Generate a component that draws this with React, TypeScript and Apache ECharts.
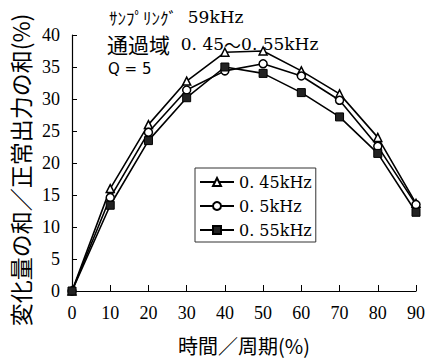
import React, { useEffect, useRef } from "react";
import * as echarts from "echarts";

const xValues = [0, 10, 20, 30, 40, 50, 60, 70, 80, 90];
const s045 = [0, 16.0, 26.0, 32.8, 37.3, 37.5, 34.4, 30.8, 24.0, 13.7];
const s050 = [0, 14.6, 24.8, 31.4, 34.4, 35.5, 33.6, 29.8, 22.6, 13.5];
const s055 = [0, 13.4, 23.5, 30.2, 35.0, 34.0, 31.0, 27.2, 21.5, 12.3];
const seriesNames = ["0. 45kHz", "0. 5kHz", "0. 55kHz"];
const serif = "'Liberation Serif', 'DejaVu Serif', serif";
const wideSerif = "'DejaVu Serif', serif";
const cjk = "'Noto Sans CJK JP', sans-serif";

export default function App() {
  const ref = useRef<HTMLDivElement>(null);
  useEffect(() => {
    const chart = echarts.init(ref.current!, null, { renderer: "svg" });
    const mk = (vals: number[]) => vals.map((v, i) => [xValues[i], v]);
    const base = {
      type: "line",
      lineStyle: { color: "#000", width: 1.6 },
      symbolSize: 8,
    };
    chart.setOption({
      animation: false,
      backgroundColor: "#fff",
      grid: { left: 72, right: 13, top: 35, bottom: 67 },
      xAxis: {
        type: "value",
        min: 0,
        max: 90,
        interval: 10,
        axisLine: { lineStyle: { color: "#000", width: 1.2 } },
        axisTick: { inside: true, length: 6, lineStyle: { color: "#000" } },
        axisLabel: { color: "#000", fontSize: 18, fontFamily: serif, margin: 13 },
        splitLine: { show: false },
      },
      yAxis: {
        type: "value",
        min: 0,
        max: 40,
        interval: 5,
        axisLine: { show: true, lineStyle: { color: "#000", width: 1.2 } },
        axisTick: { show: true, inside: true, length: 5, lineStyle: { color: "#000" } },
        axisLabel: { color: "#000", fontSize: 18, fontFamily: serif, margin: 12 },
        splitLine: { show: false },
      },
      legend: {
        orient: "vertical",
        left: 195,
        top: 168,
        itemWidth: 34,
        itemHeight: 10,
        itemGap: 8,
        padding: [6, 4, 4, 4],
        borderColor: "#333",
        borderWidth: 1,
        borderRadius: 0,
        backgroundColor: "#fff",
        textStyle: { color: "#000", fontSize: 16, fontFamily: wideSerif },
        data: seriesNames,
      },
      series: [
        {
          ...base,
          name: seriesNames[0],
          data: mk(s045),
          symbol: "triangle",
          itemStyle: { color: "#fff", borderColor: "#000", borderWidth: 1.5 },
        },
        {
          ...base,
          name: seriesNames[1],
          data: mk(s050),
          symbol: "circle",
          itemStyle: { color: "#fff", borderColor: "#000", borderWidth: 1.5 },
        },
        {
          ...base,
          name: seriesNames[2],
          data: mk(s055),
          symbol: "rect",
          itemStyle: { color: "#222", borderColor: "#000", borderWidth: 1 },
        },
      ],
      graphic: [
        {
          type: "text",
          x: 109,
          y: 17,
          style: {
            text: "{a|ｻﾝﾌﾟﾘﾝｸﾞ}{b|  59kHz}",
            verticalAlign: "middle",
            fill: "#000",
            rich: {
              a: { font: `17px ${cjk}`, fill: "#000", lineHeight: 16 },
              b: { font: `17px ${wideSerif}`, fill: "#000", lineHeight: 16 },
            },
          },
        },
        {
          type: "text",
          x: 107,
          y: 44,
          style: {
            text: "{a|通過域}{b|  0. 45}{c|～}{b|0. 55kHz}",
            verticalAlign: "middle",
            fill: "#000",
            rich: {
              a: { font: `21px ${cjk}`, fill: "#000", lineHeight: 20 },
              b: { font: `17px ${wideSerif}`, fill: "#000", lineHeight: 20 },
              c: { font: `17px ${cjk}`, fill: "#000", lineHeight: 20 },
            },
          },
        },
        {
          type: "text",
          x: 108,
          y: 69,
          style: {
            text: "Q = 5",
            font: `15px 'DejaVu Sans', sans-serif`,
            fill: "#000",
            verticalAlign: "middle",
          },
        },
        {
          type: "text",
          x: 20,
          y: 170,
          rotation: Math.PI / 2,
          style: {
            text: "変化量の和／正常出力の和(%)",
            font: `23px ${cjk}`,
            fill: "#000",
            align: "center",
            verticalAlign: "middle",
          },
        },
        {
          type: "text",
          x: 244,
          y: 345,
          style: {
            text: "時間／周期(%)",
            font: `20px ${cjk}`,
            fill: "#000",
            align: "center",
            verticalAlign: "middle",
          },
        },
      ],
    });
    return () => chart.dispose();
  }, []);
  return <div ref={ref} style={{ width: 429, height: 358, position: "absolute", left: 0, top: 0 }} />;
}
